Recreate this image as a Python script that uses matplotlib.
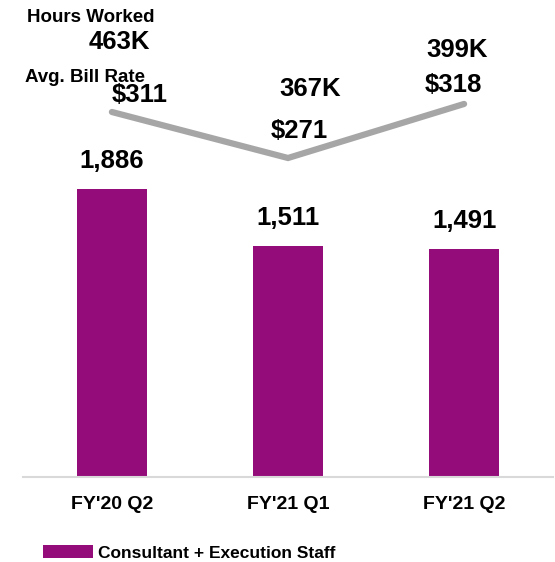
import matplotlib
matplotlib.use("Agg")
import matplotlib.pyplot as plt

plt.rcParams['font.family'] = ['Liberation Sans', 'DejaVu Sans']
plt.rcParams['font.weight'] = 'bold'

# data
quarters = ["FY'20 Q2", "FY'21 Q1", "FY'21 Q2"]
staff = [1886, 1511, 1491]
bill_rate = [311, 271, 318]
hours_worked = ["463K", "367K", "399K"]
series_name = "Consultant + Execution Staff"

bar_color = '#930C79'
line_color = '#A6A6A6'

fig = plt.figure(figsize=(5.55, 5.62), dpi=100)
ax = fig.add_axes([23 / 555, 85 / 562, 530 / 555, 477 / 562])

x = range(len(quarters))
ax.bar(x, staff, width=0.40, color=bar_color, label=series_name, zorder=2)
ax.set_xlim(-0.505, 2.505)
ax.set_ylim(0, 3124)

for xi, v in zip(x, staff):
    ax.annotate(f"{v:,}", (xi, v), xytext=(0, 28), textcoords='offset pixels',
                ha='center', va='center', fontsize=18.5, fontweight='bold')

ax.set_xticks(list(x))
ax.set_xticklabels(quarters, fontsize=14, fontweight='bold')
ax.tick_params(axis='x', length=0, pad=14)
ax.set_yticks([])
for s in ['top', 'right', 'left']:
    ax.spines[s].set_visible(False)
ax.spines['bottom'].set_color('#D9D9D9')
ax.spines['bottom'].set_linewidth(1.5)

# bill rate line on its own scale
ax2 = ax.twinx()
ax2.set_ylim(-6.4, 408.4)
ax2.axis('off')
ax2.plot(list(x), bill_rate, color=line_color, linewidth=4.5,
         solid_capstyle='round', solid_joinstyle='miter')

rate_offsets = [(28, 17), (11, 27), (-11, 19)]
hours_offsets = [(7, 70), (22, 69), (-7, 54)]
for xi, r, h, ro, ho in zip(x, bill_rate, hours_worked, rate_offsets, hours_offsets):
    ax2.annotate(f"${r}", (xi, r), xytext=ro, textcoords='offset pixels',
                 ha='center', va='center', fontsize=18.5, fontweight='bold')
    ax2.annotate(h, (xi, r), xytext=ho, textcoords='offset pixels',
                 ha='center', va='center', fontsize=18.5, fontweight='bold')

fig.text(91 / 555, 1 - 17 / 562, "Hours Worked", ha='center', va='center',
         fontsize=13.5, fontweight='bold')
fig.text(85 / 555, 1 - 77 / 562, "Avg. Bill Rate", ha='center', va='center',
         fontsize=13.5, fontweight='bold')

ax.legend(loc='center left', bbox_to_anchor=(27 / 555, 9 / 562),
          bbox_transform=fig.transFigure, frameon=False,
          handlelength=2.9, handleheight=0.7, handletextpad=0.3,
          prop={'weight': 'bold', 'size': 12.5})

fig.savefig('out.png', dpi=100)
